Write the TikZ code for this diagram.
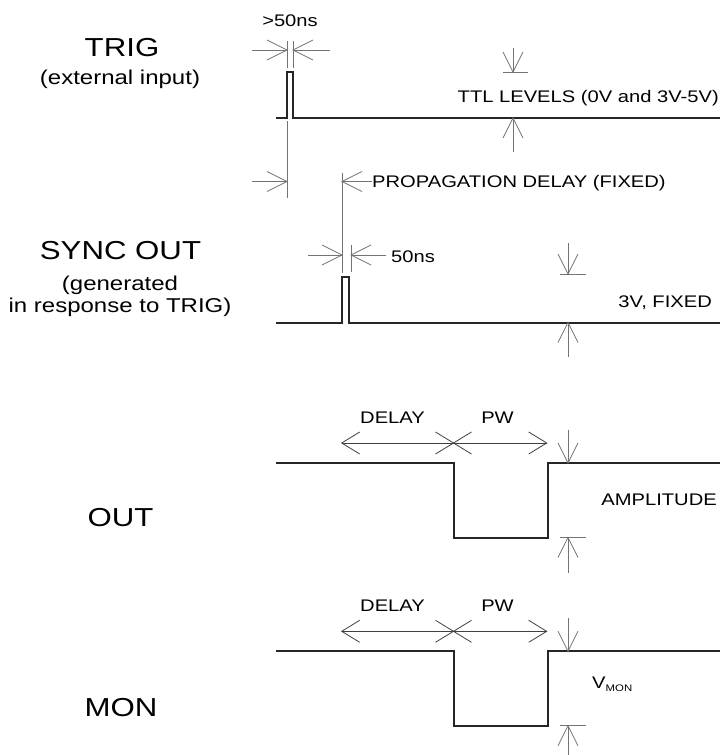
\documentclass[tikz,border=0pt]{standalone}
\usepackage{fontspec}
\setmainfont{Liberation Sans}[FakeStretch=1.2]
\usetikzlibrary{arrows.meta}
% open V tip, shaft runs into the point
\pgfdeclarearrow{
  name = Vbarb,
  parameters = {\the\pgfarrowlength,\the\pgfarrowwidth},
  setup code = {
    \pgfarrowssettipend{0pt}
    \pgfarrowssetlineend{0pt}
    \pgfarrowssetbackend{-\pgfarrowlength}
    \pgfarrowssavethe\pgfarrowlength
    \pgfarrowssavethe\pgfarrowwidth
  },
  drawing code = {
    \pgfpathmoveto{\pgfqpoint{-\pgfarrowlength}{.5\pgfarrowwidth}}
    \pgfpathlineto{\pgfqpoint{0pt}{0pt}}
    \pgfpathlineto{\pgfqpoint{-\pgfarrowlength}{-.5\pgfarrowwidth}}
    \pgfusepathqstroke
  },
  defaults = {length=20pt, width=20pt}
}
\tikzstyle{wave}=[line width=2pt, black!85, line join=miter]
\tikzstyle{dim}=[line width=0.8pt, black!55]
\tikzstyle{dimarr}=[dim, -{Vbarb[length=20pt,width=20pt]}]
\tikzstyle{span}=[line width=0.8pt, black!75, {Vbarb[length=18pt,width=22pt]}-{Vbarb[length=18pt,width=22pt]}]
\tikzstyle{big}=[inner sep=0, font=\fontsize{26}{28}\selectfont]
\tikzstyle{mid}=[inner sep=0, font=\fontsize{20}{22}\selectfont]
\tikzstyle{small}=[inner sep=0, font=\fontsize{16.8}{18}\selectfont]

\begin{document}
\begin{tikzpicture}[x=1pt,y=-1pt]
\useasboundingbox (0,0) rectangle (722,755);
% left labels
\node (trig) at (122,56)[big,anchor=base]{TRIG};
\node (trigsub) at (120,84)[mid,anchor=base]{(external input)};
\node (sync) at (120.5,259)[big,anchor=base]{SYNC OUT};
\node (syncsub) at (120,290)[mid,anchor=base]{(generated};
\node (syncsubb) at (120,312)[mid,anchor=base]{in response to TRIG)};
\node (out) at (120.5,526)[big,anchor=base]{OUT};
\node (mon) at (121,716)[big,anchor=base]{MON};
% TRIG
\draw[wave] (276,118) -- (287,118) -- (287,72) -- (293,72) -- (293,118) -- (720,118);
\node (trigw) at (290,26)[small,anchor=base]{>50ns};
\draw[dim] (287,41) -- (287,68);
\draw[dim] (293,41) -- (293,68);
\draw[dimarr] (252,50) -- (287,50);
\draw[dimarr] (330,50) -- (293,50);
\node (ttl) at (719,102.5)[small,anchor=base east]{TTL LEVELS (0V and 3V-5V)};
\draw[dimarr] (513,48) -- (513,72);
\draw[dim] (503,72) -- (528,72);
\draw[dimarr] (513,152) -- (513,118);
% propagation delay
\draw[dim] (287,121) -- (287,198);
\draw[dimarr] (252,181.5) -- (287,181.5);
\node (prop) at (372,187)[small,anchor=base west]{PROPAGATION DELAY (FIXED)};
\draw[dimarr] (prop.west|-0,181.5) -- (342,181.5);
\draw[dim] (342,173) -- (342,273);
% SYNC OUT
\draw[wave] (276,322.5) -- (342,322.5) -- (342,277) -- (349,277) -- (349,322.5) -- (720,322.5);
\draw[dim] (351,245) -- (351,272);
\draw[dimarr] (308,255) -- (342,255);
\node (syncw) at (391,262.5)[small,anchor=base west]{50ns};
\draw[dimarr] (386,255) -- (351,255);
\node (fixed) at (712,307.5)[small,anchor=base east]{3V, FIXED};
\draw[dimarr] (568,243) -- (568,274);
\draw[dim] (560,274) -- (586,274);
\draw[dimarr] (568,357) -- (568,322.5);
% OUT and MON
\foreach \y/\nm/\tl in {463/out/573, 651.3/mon/755} {
  \draw[wave] (276,\y) -- (454,\y) -- (454,{\y+74.5}) -- (547.5,{\y+74.5}) -- (547.5,\y) -- (720,\y);
  \draw[span] (341.7,{\y-20}) -- (453.5,{\y-20});
  \draw[span] (453.5,{\y-20}) -- (546.7,{\y-20});
  \node (delay\nm) at (392.5,{\y-40})[small,anchor=base]{DELAY};
  \node (pw\nm) at (497.5,{\y-40})[small,anchor=base]{PW};
  \draw[dimarr] (568,{\y-33}) -- (568,\y);
  \draw[dim] (560,{\y+74.5}) -- (586,{\y+74.5});
  \draw[dimarr] (568,\tl) -- (568,{\y+74.5});
}
\node (amp) at (717,505)[small,anchor=base east]{AMPLITUDE};
\node (vmon) at (592,688)[small,anchor=base west]{V\raisebox{-3pt}{\fontsize{9.5}{10}\selectfont MON}};
\end{tikzpicture}
\end{document}
